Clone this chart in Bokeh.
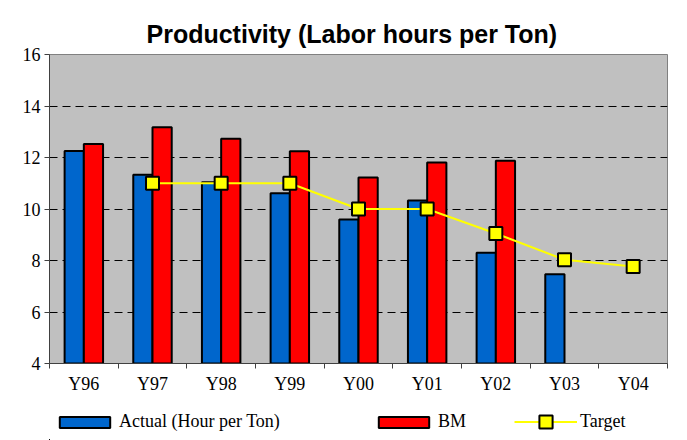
from bokeh.plotting import figure
from bokeh.layouts import column
from bokeh.models import Range1d, FixedTicker, ColumnDataSource, Legend, LegendItem
from bokeh.transform import dodge
from bokeh.embed import file_html
from bokeh.resources import INLINE

categories = ["Y96", "Y97", "Y98", "Y99", "Y00", "Y01", "Y02", "Y03", "Y04"]
actual = [12.25, 11.33, 11.04, 10.61, 9.59, 10.33, 8.30, 7.47, None]
bm = [12.52, 13.17, 12.73, 12.24, 11.22, 11.81, 11.87, None, None]
target = [None, 11.0, 11.0, 11.0, 10.0, 10.0, 9.05, 8.03, 7.77]
y_ticks = [4, 6, 8, 10, 12, 14, 16]

series_labels = ["Actual (Hour per Ton)", "BM", "Target"]
BLUE, RED, YELLOW = "#0066CC", "#FF0000", "#FFFF00"

pos = [i + 0.5 for i in range(len(categories))]


def src(vals):
    xs = [p_ for p_, v in zip(pos, vals) if v is not None]
    ys = [v for v in vals if v is not None]
    return ColumnDataSource(dict(pos=xs, val=ys))


act_src, bm_src, tgt_src = src(actual), src(bm), src(target)

p = figure(width=679, height=400,
           x_range=Range1d(0, len(categories)), y_range=Range1d(y_ticks[0], y_ticks[-1]),
           output_backend="svg", toolbar_location=None,
           min_border_left=49, min_border_right=12, min_border_top=54, min_border_bottom=37,
           background_fill_color="#C0C0C0", outline_line_color="#808080",
           border_fill_color="white",
           title="Productivity (Labor hours per Ton)")

p.title.text_font = "Liberation Sans"
p.title.text_font_size = "25px"
p.title.text_font_style = "bold"
p.title.text_color = "black"
p.title.align = "left"
p.title.offset = 97
p.title.standoff = 14

# x axis: labels at category centres, tick marks at category boundaries
p.xaxis.ticker = FixedTicker(ticks=pos, minor_ticks=list(range(len(categories) + 1)))
p.xaxis.major_label_overrides = {x: c for x, c in zip(pos, categories)}
p.xaxis.major_tick_line_color = None
p.xaxis.major_tick_out = 0
p.xaxis.major_tick_in = 0
p.xaxis.minor_tick_line_color = "#404040"
p.xaxis.minor_tick_out = 5
p.xaxis.minor_tick_in = 0
p.xaxis.major_label_standoff = 5
p.xaxis.axis_line_color = "#404040"
p.xaxis.major_label_text_font = "Liberation Serif"
p.xaxis.major_label_text_font_size = "18px"
p.xaxis.major_label_text_color = "black"

# y axis
p.yaxis.ticker = FixedTicker(ticks=y_ticks)
p.yaxis.major_tick_out = 5
p.yaxis.major_tick_in = 0
p.yaxis.minor_tick_line_color = None
p.yaxis.major_tick_line_color = "#404040"
p.yaxis.axis_line_color = "#404040"
p.yaxis.major_label_standoff = 4
p.yaxis.major_label_text_font = "Liberation Serif"
p.yaxis.major_label_text_font_size = "18px"
p.yaxis.major_label_text_color = "black"

p.xgrid.visible = False
p.ygrid.ticker = FixedTicker(ticks=y_ticks[1:-1])
p.ygrid.grid_line_color = "black"
p.ygrid.grid_line_dash = "8 5"
p.ygrid.grid_line_width = 1

bw = 0.28
bar_act = dict(fill_color=BLUE, line_color="black", line_width=2)
bar_bm = dict(fill_color=RED, line_color="black", line_width=2)
line_t = dict(line_color=YELLOW, line_width=2)
mark_t = dict(marker="square", size=13, fill_color=YELLOW, line_color="black", line_width=2)

p.vbar(x=dodge("pos", -bw / 2, range=p.x_range), top="val", bottom=y_ticks[0], width=bw,
       source=act_src, **bar_act)
p.vbar(x=dodge("pos", bw / 2, range=p.x_range), top="val", bottom=y_ticks[0], width=bw,
       source=bm_src, **bar_bm)
p.line(x="pos", y="val", source=tgt_src, **line_t)
p.scatter(x="pos", y="val", source=tgt_src, **mark_t)

# legend strip below the chart: same series, in a view where the data lies far out of sight
lg = figure(width=679, height=40, x_range=Range1d(1000, 1001), y_range=Range1d(1000, 1001),
            output_backend="svg", toolbar_location=None,
            x_axis_location=None, y_axis_location=None,
            min_border=0, outline_line_color=None, background_fill_color="white",
            border_fill_color="white")
lg.xgrid.visible = False
lg.ygrid.visible = False
l_act = lg.vbar(x="pos", top="val", bottom=y_ticks[0], width=bw, source=act_src, **bar_act)
l_bm = lg.vbar(x="pos", top="val", bottom=y_ticks[0], width=bw, source=bm_src, **bar_bm)
l_tl = lg.line(x="pos", y="val", source=tgt_src, **line_t)
l_tm = lg.scatter(x="pos", y="val", source=tgt_src, **mark_t)


def make_legend(label, renderers, loc, gh=14):
    leg = Legend(items=[LegendItem(label=label, renderers=renderers, index=0)], location=loc,
                 orientation="horizontal", glyph_width=63, glyph_height=gh, label_height=gh,
                 padding=0, margin=0, spacing=0, border_line_color=None,
                 background_fill_alpha=0, label_standoff=3,
                 label_text_font="Liberation Serif", label_text_font_size="18px",
                 label_text_color="black")
    lg.add_layout(leg)


make_legend(series_labels[0], [l_act], (4, 8))
make_legend(series_labels[1], [l_bm], (323, 8))
make_legend(series_labels[2], [l_tl, l_tm], (465, 2), gh=33)

layout = column(p, lg, spacing=0)
open("out.html", "w").write(file_html(layout, INLINE))
